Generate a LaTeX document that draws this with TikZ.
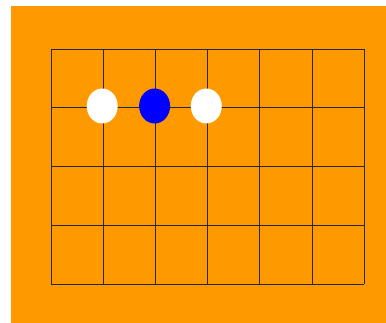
\documentclass[tikz,border=0pt]{standalone}
\usetikzlibrary{shapes.geometric}
\definecolor{bgorange}{RGB}{255,153,0}
\begin{document}
\begin{tikzpicture}[x=1pt,y=-1pt,
  gridline/.style={draw=black!85, line width=0.7pt},
  stone/.style={ellipse, minimum width=31pt, minimum height=35pt, inner sep=0pt, draw=none},
  whitestone/.style={stone, fill=white},
  bluestone/.style={stone, fill=blue}]
\fill[white] (0,0) rectangle (386,323);
\useasboundingbox (0,0) rectangle (386,323);
\fill[bgorange] (11,6) rectangle (386,323);
\foreach \i in {0,...,6} {
  \draw[gridline] ({51+\i*52.17},49) -- ({51+\i*52.17},284);
}
\foreach \j in {0,...,4} {
  \draw[gridline] (51,{49+\j*58.75}) -- (364,{49+\j*58.75});
}
\node[whitestone] (w1) at (102.2,106) {};
\node[bluestone] (b1) at (154.6,106) {};
\node[whitestone] (w2) at (206.3,106) {};
\end{tikzpicture}
\end{document}
